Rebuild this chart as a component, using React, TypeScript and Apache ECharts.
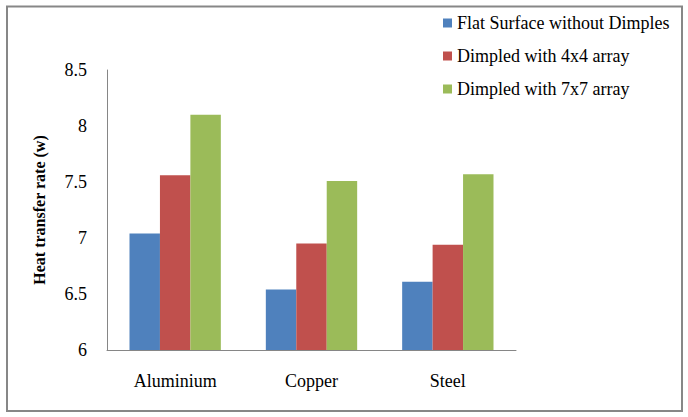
import React, { useEffect, useRef } from "react";
import * as echarts from "echarts";

const categories = ["Aluminium", "Copper", "Steel"];
const seriesNames = [
  "Flat Surface without Dimples",
  "Dimpled with 4x4 array",
  "Dimpled with 7x7 array",
];
const flatValues = [7.04, 6.54, 6.61];
const dimple4Values = [7.56, 6.95, 6.94];
const dimple7Values = [8.1, 7.51, 7.57];
const colors = ["#4F81BD", "#C0504D", "#9BBB59"];
const yTicks = { min: 6, max: 8.5, interval: 0.5 };

export default function App() {
  const ref = useRef<HTMLDivElement>(null);
  useEffect(() => {
    if (!ref.current) return;
    const chart = echarts.init(ref.current, null, { renderer: "svg" });
    const font = "Times New Roman, Liberation Serif, serif";
    const data = [flatValues, dimple4Values, dimple7Values];
    chart.setOption({
      animation: false,
      backgroundColor: "#fff",
      textStyle: { fontFamily: font },
      grid: { left: 107, right: 172, top: 70, bottom: 67, containLabel: false },
      legend: {
        orient: "vertical",
        left: 438,
        top: 9,
        itemWidth: 9,
        itemHeight: 9,
        itemGap: 15,
        icon: "rect",
        textStyle: { fontFamily: font, fontSize: 18, lineHeight: 18, color: "#000" },
        data: seriesNames,
      },
      xAxis: {
        type: "category",
        data: categories,
        axisLine: { show: true, lineStyle: { color: "#868686", width: 1 } },
        axisTick: { show: false },
        axisLabel: { fontFamily: font, fontSize: 18, color: "#000", margin: 22 },
      },
      yAxis: {
        type: "value",
        min: yTicks.min,
        max: yTicks.max,
        interval: yTicks.interval,
        name: "Heat transfer rate (w)",
        nameLocation: "middle",
        nameRotate: 90,
        nameGap: 60,
        nameTextStyle: { fontFamily: font, fontSize: 16, fontWeight: "bold", color: "#000" },
        axisLine: { show: true, lineStyle: { color: "#868686", width: 1 } },
        axisTick: { show: false },
        splitLine: { show: false },
        axisLabel: { fontFamily: font, fontSize: 18, color: "#000", margin: 20 },
      },
      series: seriesNames.map((name, i) => ({
        name,
        type: "bar",
        data: data[i],
        barGap: "0%",
        barCategoryGap: "33%",
        itemStyle: { color: colors[i] },
      })),
      graphic: [
        {
          type: "rect",
          shape: { x: 7, y: 6.5, width: 675, height: 404.5 },
          style: { fill: "none", stroke: "#878787", lineWidth: 2 },
          silent: true,
        },
      ],
    });
    return () => chart.dispose();
  }, []);
  return (
    <div
      ref={ref}
      style={{ position: "absolute", left: 0, top: 0, width: 688, height: 417 }}
    />
  );
}
